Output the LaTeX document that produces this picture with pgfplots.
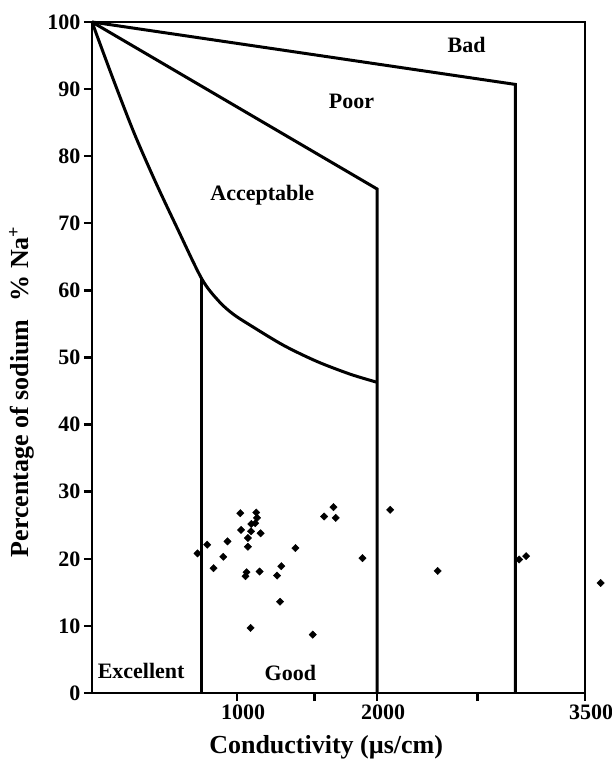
\documentclass[border=0pt]{standalone}
\usepackage{fontspec}
\setmainfont{Liberation Serif}
\usepackage{pgfplots}
\pgfplotsset{compat=1.18}
\begin{document}
\begin{tikzpicture}
\useasboundingbox (-92pt,-68pt) rectangle (520pt,693pt);
\begin{axis}[
  at={(0,0)}, anchor=south west,
  scale only axis, width=493pt, height=671pt,
  xmin=0, xmax=3500, ymin=0, ymax=100,
  clip=false,
  axis line style={line width=2.8pt},
  xtick={1031,2025,3500}, xticklabels={1000,2000,3500},
  extra x ticks={1579,2738}, extra x tick labels={},
  ytick={0,10,...,100},
  tick align=outside, tick pos=left,
  major tick length=8pt,
  tick style={line width=2.4pt, black},
  /pgf/number format/assume math mode=true,
  ticklabel style={font=\fontsize{22}{26}\selectfont\bfseries},
  xticklabel style={xshift=6pt},
  xlabel={Conductivity (µs/cm)},
  ylabel={Percentage of sodium\hspace{18pt}\% Na\textsuperscript{+}},
  label style={font=\fontsize{26}{30}\selectfont\bfseries},
  xlabel style={at={(axis description cs:0.475,-0.0805)}, anchor=center},
  ylabel style={at={(axis description cs:-0.143,0.449)}, anchor=center},
]
% Bad / Poor boundary
\addplot[line width=3pt, black] coordinates {(0,100) (3005,90.7) (3005,0)};
% Poor / Acceptable boundary
\addplot[line width=3pt, black] coordinates {(0,100) (2025,75.1) (2025,0)};
% Acceptable / Good boundary
\addplot[line width=3pt, black, smooth] coordinates {
(0,100) (150,91.5) (300,83.4) (450,76.2) (600,69.5) (780,61.7)
(900,58.4) (1000,56.5) (1124,54.8) (1361,51.8) (1598,49.4) (1835,47.5) (2025,46.3)};
% Excellent / Good boundary
\addplot[line width=3pt, black] coordinates {(780,61.7) (780,0)};
% samples
\addplot[only marks, mark=square*, mark size=2.6pt, mark options={rotate=45, black}] table {
x y
1053 26.8
1166 26.9
1171 26.1
1131 25.2
1159 25.3
1058 24.3
1129 24.1
1197 23.8
1107 23.1
962 22.6
818 22.1
749 20.8
1107 21.8
932 20.3
863 18.6
1097 18.0
1090 17.4
1190 18.1
1344 18.9
1314 17.5
1444 21.6
1335 13.6
1126 9.7
1567 8.7
1714 27.7
1648 26.3
1730 26.1
1920 20.1
2117 27.3
2454 18.2
3032 19.9
3082 20.4
3611 16.4
};
\node[font=\fontsize{22}{26}\selectfont\bfseries] at (axis cs:2660,96.6) {Bad};
\node[font=\fontsize{22}{26}\selectfont\bfseries] at (axis cs:1842,88.1) {Poor};
\node[font=\fontsize{22}{26}\selectfont\bfseries] at (axis cs:1209,74.2) {Acceptable};
\node[font=\fontsize{22}{26}\selectfont\bfseries] at (axis cs:349,3.3) {Excellent};
\node[font=\fontsize{22}{26}\selectfont\bfseries] at (axis cs:1408,3.0) {Good};
\end{axis}
\end{tikzpicture}
\end{document}
